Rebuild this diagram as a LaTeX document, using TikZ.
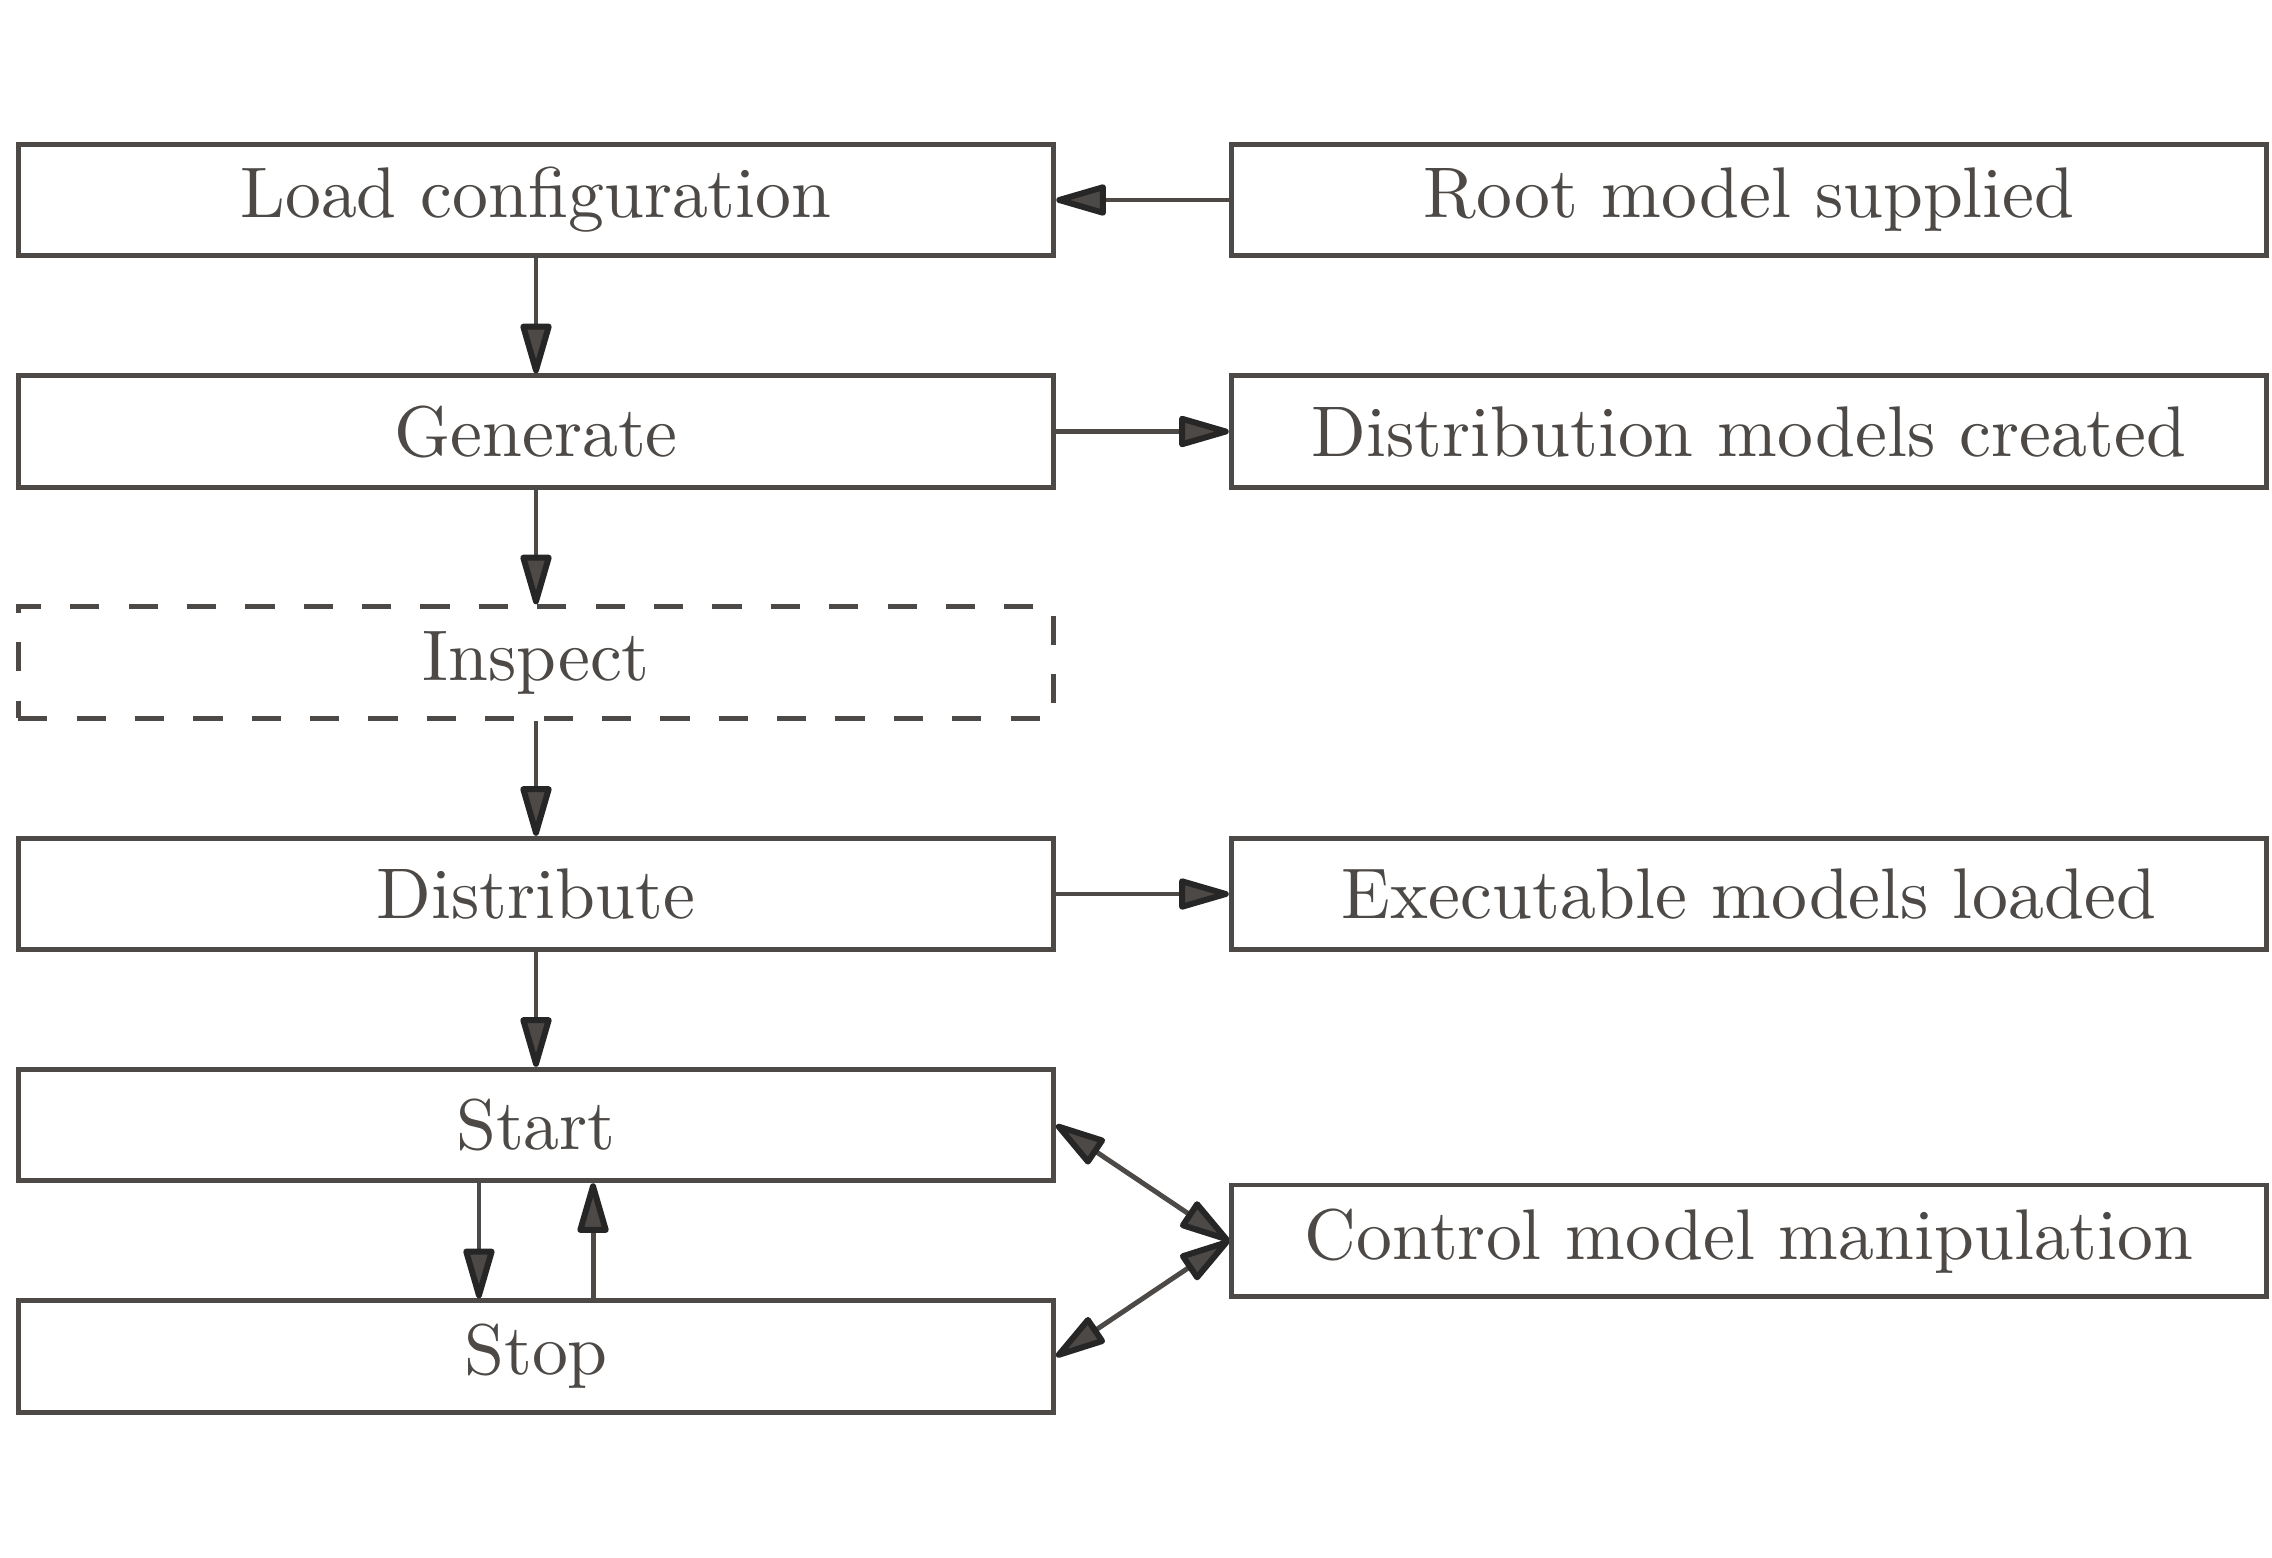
\documentclass[tikz,border=0pt]{standalone}
\usepackage{graphicx}
\usetikzlibrary{arrows.meta}
\definecolor{linec}{HTML}{4D4946}
\definecolor{tipc}{HTML}{262626}
\newcommand{\lbl}[1]{\scalebox{2.04}{\fontsize{10}{12}\selectfont #1}}
\tikzset{
  box/.style={draw=linec, line width=1.4pt, minimum width=10.35cm, minimum height=1.115cm,
    inner sep=0pt, text=linec},
  dashbox/.style={box, dash pattern=on 8.3pt off 8.3pt},
  tiparrow/.tip={Triangle[length=16.5pt,width=9pt,fill=linec,color=tipc,line width=1.7pt,round]},
  conn/.style={draw=linec, line width=1.4pt, -tiparrow},
  dconn/.style={draw=linec, line width=1.4pt, tiparrow-tiparrow}
}
\begin{document}
\begin{tikzpicture}[x=0.01cm,y=-0.01cm]
\useasboundingbox (0,0) rectangle (2272,1557);
\fill[white] (0,0) rectangle (2272,1557);
% left column
\node[box] (load) at (536,200) {\lbl{Load configuration}};
\node[box] (gen) at (536,431.5) {\lbl{Generate}};
\node[dashbox] (insp) at (536,662.5) {\lbl{Inspect}};
\node[box] (dist) at (536,894) {\lbl{Distribute}};
\node[box] (start) at (536,1125) {\lbl{Start}};
\node[box] (stop) at (536,1356.5) {\lbl{Stop}};
% right column
\node[box] (root) at (1749,200) {\lbl{Root model supplied}};
\node[box] (dmc) at (1749,431.5) {\lbl{Distribution models created}};
\node[box] (eml) at (1749,894) {\lbl{Executable models loaded}};
\node[box] (cmm) at (1749,1240.75) {\lbl{Control model manipulation}};
% connectors
\draw[conn] (root.west) -- (load.east);
\draw[conn] (gen.east) -- (dmc.west);
\draw[conn] (dist.east) -- (eml.west);
\draw[conn] (load.south) -- (gen.north);
\draw[conn] (gen.south) -- (insp.north);
\draw[conn] (insp.south) -- (dist.north);
\draw[conn] (dist.south) -- (start.north);
\draw[conn] ([xshift=-0.57cm]start.south) -- ([xshift=-0.57cm]stop.north);
\draw[conn] ([xshift=0.57cm]stop.north) -- ([xshift=0.57cm]start.south);
\draw[dconn] (start.east) -- (cmm.west);
\draw[dconn] (stop.east) -- (cmm.west);
\end{tikzpicture}
\end{document}
